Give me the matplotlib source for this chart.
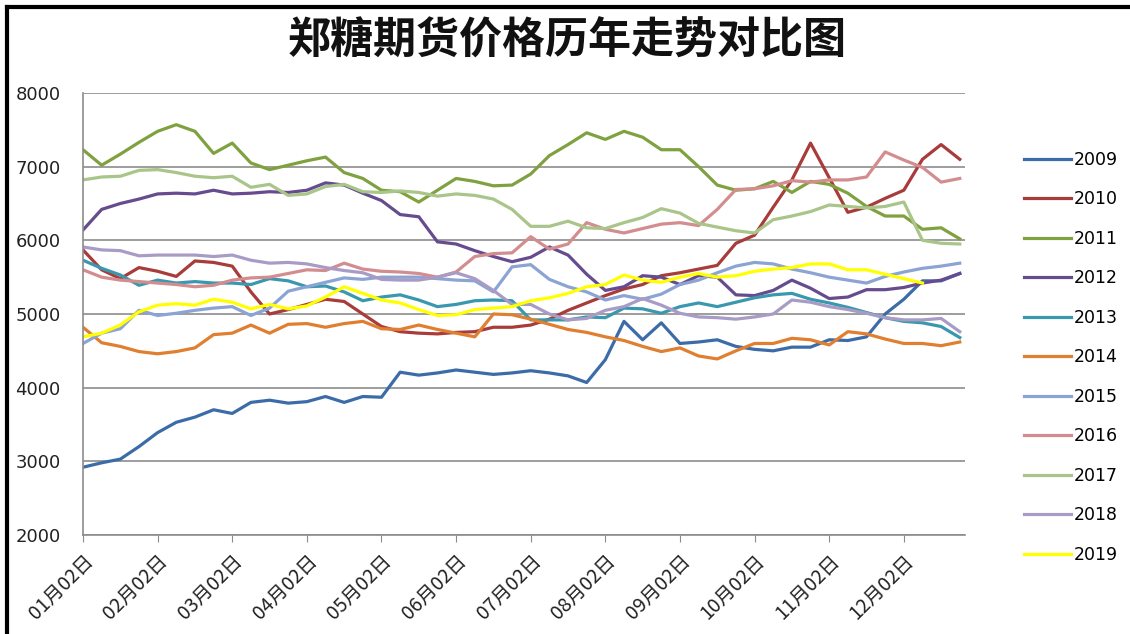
import numpy as np
import matplotlib
matplotlib.use('Agg')
import matplotlib.pyplot as plt
from matplotlib.lines import Line2D

plt.rcParams['font.family'] = ['DejaVu Sans']
cjk = ['Noto Sans CJK SC', 'DejaVu Sans']

# 每年按约每 1/4 个月取一个点 (从 01月02日 起)
p2009 = [2920, 2980, 3030, 3200, 3390, 3530, 3600, 3700, 3650, 3800, 3830, 3790,
         3810, 3880, 3800, 3880, 3870, 4210, 4170, 4200, 4240, 4210, 4180, 4200,
         4230, 4200, 4160, 4070, 4380, 4900, 4650, 4880, 4600, 4620, 4650, 4560,
         4520, 4500, 4550, 4550, 4650, 4640, 4690, 5000, 5200, 5450, 5450, 5550]
p2010 = [5870, 5600, 5480, 5630, 5580, 5510, 5720, 5700, 5650, 5300, 5000, 5060,
         5130, 5200, 5170, 5000, 4830, 4760, 4740, 4730, 4750, 4760, 4820, 4820,
         4850, 4930, 5050, 5150, 5250, 5340, 5400, 5520, 5560, 5610, 5660, 5960,
         6070, 6450, 6820, 7320, 6850, 6380, 6450, 6570, 6680, 7100, 7300, 7100]
p2011 = [7230, 7020, 7170, 7330, 7480, 7570, 7480, 7180, 7320, 7050, 6960, 7020,
         7080, 7130, 6920, 6840, 6680, 6660, 6520, 6680, 6840, 6800, 6740, 6750,
         6900, 7150, 7300, 7460, 7370, 7480, 7400, 7230, 7230, 7000, 6750, 6680,
         6700, 6800, 6650, 6800, 6760, 6640, 6460, 6330, 6330, 6150, 6170, 6020]
p2012 = [6140, 6420, 6500, 6560, 6630, 6640, 6630, 6680, 6630, 6640, 6660, 6650,
         6680, 6780, 6750, 6640, 6540, 6350, 6320, 5980, 5950, 5860, 5780, 5710,
         5770, 5910, 5800, 5540, 5320, 5370, 5520, 5500, 5400, 5520, 5500, 5260,
         5250, 5320, 5460, 5350, 5210, 5230, 5330, 5330, 5360, 5420, 5460, 5550]
p2013 = [5730, 5620, 5530, 5390, 5460, 5420, 5440, 5420, 5420, 5400, 5480, 5450,
         5370, 5380, 5300, 5180, 5230, 5260, 5190, 5100, 5130, 5180, 5190, 5180,
         4920, 4920, 4920, 4960, 4950, 5080, 5070, 5010, 5100, 5150, 5100, 5160,
         5220, 5260, 5280, 5200, 5150, 5090, 5020, 4950, 4900, 4880, 4830, 4680]
p2014 = [4820, 4610, 4560, 4490, 4460, 4490, 4540, 4720, 4740, 4850, 4740, 4860,
         4870, 4820, 4870, 4900, 4800, 4790, 4850, 4790, 4740, 4690, 5000, 4990,
         4930, 4860, 4790, 4750, 4690, 4640, 4560, 4490, 4540, 4430, 4390, 4500,
         4600, 4600, 4670, 4650, 4580, 4760, 4730, 4660, 4600, 4600, 4570, 4620]
p2015 = [4600, 4740, 4800, 5050, 4980, 5010, 5050, 5080, 5100, 4980, 5080, 5310,
         5370, 5430, 5490, 5470, 5500, 5500, 5500, 5480, 5460, 5450, 5300, 5640,
         5670, 5470, 5370, 5300, 5190, 5250, 5200, 5270, 5400, 5460, 5560, 5650,
         5700, 5680, 5610, 5560, 5500, 5460, 5420, 5510, 5570, 5620, 5650, 5690]
p2016 = [5600, 5500, 5460, 5440, 5420, 5400, 5370, 5390, 5460, 5490, 5500, 5550,
         5600, 5590, 5690, 5610, 5580, 5570, 5550, 5500, 5570, 5780, 5820, 5830,
         6050, 5880, 5950, 6240, 6150, 6100, 6160, 6220, 6240, 6200, 6420, 6690,
         6700, 6740, 6810, 6790, 6820, 6820, 6860, 7200, 7090, 6990, 6790, 6840]
p2017 = [6820, 6860, 6870, 6950, 6960, 6920, 6870, 6850, 6870, 6720, 6760, 6610,
         6630, 6730, 6760, 6660, 6650, 6670, 6650, 6600, 6630, 6610, 6560, 6420,
         6190, 6190, 6260, 6170, 6160, 6240, 6310, 6430, 6370, 6230, 6180, 6130,
         6100, 6280, 6330, 6390, 6480, 6460, 6440, 6460, 6520, 6000, 5960, 5950]
p2018 = [5910, 5870, 5860, 5790, 5800, 5800, 5800, 5780, 5800, 5730, 5690, 5700,
         5680, 5630, 5590, 5560, 5470, 5460, 5460, 5500, 5560, 5480, 5320, 5130,
         5130, 5000, 4920, 4940, 5050, 5100, 5210, 5120, 5010, 4960, 4950, 4930,
         4960, 5000, 5190, 5160, 5100, 5060, 5010, 4950, 4920, 4920, 4940, 4760]
p2019 = [4690, 4740, 4850, 5030, 5120, 5140, 5120, 5200, 5160, 5070, 5130, 5070,
         5110, 5230, 5370, 5280, 5190, 5150, 5060, 4980, 4990, 5060, 5080, 5100,
         5180, 5220, 5280, 5370, 5400, 5530, 5460, 5430, 5500, 5550, 5500, 5520,
         5580, 5610, 5630, 5680, 5680, 5600, 5600, 5540, 5480, 5420, None, None]

years = ['2009', '2010', '2011', '2012', '2013', '2014', '2015', '2016', '2017', '2018', '2019']
series = [p2009, p2010, p2011, p2012, p2013, p2014, p2015, p2016, p2017, p2018, p2019]
colors = ['#3C6CA8', '#A83C3A', '#7FA13F', '#664C8E', '#3A98AE', '#E07F30',
          '#8CA4D4', '#D38D8F', '#A9C58A', '#A89CC6', '#FFFF00']
month_labels = ['%02d月02日' % m for m in range(1, 13)]

fig = plt.figure(figsize=(11.3, 6.34), dpi=100)
ax = fig.add_axes([83 / 1130, 1 - 535 / 634, (965 - 83) / 1130, (535 - 93) / 634])

for vals, c, yr in zip(series, colors, years):
    y = np.array([np.nan if v is None else v for v in vals], dtype=float)
    x = np.arange(len(y)) * 0.25
    ax.plot(x, y, color=c, lw=2.3, label=yr, solid_joinstyle='round')

ax.set_xlim(0, 11.82)
ax.set_ylim(2000, 8000)
ax.set_yticks(range(2000, 8001, 1000))
ax.set_xticks(range(12))
ax.set_xticklabels(month_labels, rotation=45, ha='right', va='top',
                   rotation_mode='anchor', family=cjk, fontsize=14, color='#222222')
ax.tick_params(axis='x', length=5, color='#8c8c8c', pad=6)
ax.tick_params(axis='y', length=0, labelsize=13, labelcolor='#222222', pad=16)
ax.grid(axis='y', color='#8c8c8c', lw=1.2)
ax.set_axisbelow(True)
for s in ['top', 'right']:
    ax.spines[s].set_visible(False)
for s in ['left', 'bottom']:
    ax.spines[s].set_color('#8c8c8c')
    ax.spines[s].set_linewidth(1.2)

fig.text(567 / 1130, 1 - 41 / 634, '郑糖期货价格历年走势对比图', family=cjk, fontsize=31,
         fontweight='bold', ha='center', va='center', color='#111111')

fig.legend(loc='upper left', bbox_to_anchor=(1008 / 1130, 1 - 135 / 634),
           frameon=False, fontsize=12.5, handlelength=2.7, labelspacing=1.24,
           handletextpad=0.2)

# 外框 (上、左)
fig.add_artist(Line2D([7 / 1130, 1], [1 - 7 / 634, 1 - 7 / 634], color='black', lw=3,
                      transform=fig.transFigure))
fig.add_artist(Line2D([7 / 1130, 7 / 1130], [0, 1 - 7 / 634], color='black', lw=3,
                      transform=fig.transFigure))

fig.savefig('out.png', dpi=100)
